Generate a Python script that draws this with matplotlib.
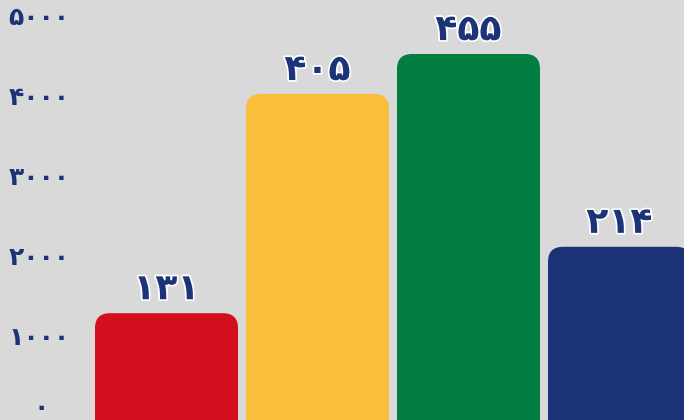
import matplotlib
matplotlib.use("Agg")
import matplotlib.pyplot as plt
from matplotlib.patches import FancyBboxPatch
import matplotlib.transforms as mtransforms
import matplotlib.patheffects as pe

categories = ["A", "B", "C", "D"]
values = [131, 405, 455, 214]
scale = 10  # bar heights on the axis are value x 10
colors = ["#d30e1f", "#f9be3a", "#047d41", "#1b3277"]
ytick_vals = [0, 1000, 2000, 3000, 4000, 5000]

fa_digits = str.maketrans("0123456789", "۰۱۲۳۴۵۶۷۸۹")
def fa(n):
    return str(n).translate(fa_digits)

W, H = 684, 420
fig = plt.figure(figsize=(W/100, H/100), dpi=100)
bg = "#d9d9d9"
fig.patch.set_facecolor(bg)
ax = fig.add_axes([0, 0, 1, 1])
ax.set_facecolor(bg)

x = list(range(len(categories)))
width = 143/151
heights = [v*scale for v in values]
bars = ax.bar(x, heights, width=width, color=colors)

xlim = (-166.5/151, (684-166.5)/151)
ylim = (-25, 5225)
ax.set_xlim(*xlim)
ax.set_ylim(*ylim)

xu_per_px = (xlim[1]-xlim[0])/W
yu_per_px = (ylim[1]-ylim[0])/H
r_px = 15
rs = r_px*xu_per_px
aspect = yu_per_px/xu_per_px
ext = r_px*yu_per_px*2
for b, c in zip(bars, colors):
    bx, by = b.get_x(), b.get_y()
    bw, bh = b.get_width(), b.get_height()
    b.remove()
    p = FancyBboxPatch((bx, by-ext), bw, bh+ext,
                       boxstyle=f"round,pad=0,rounding_size={rs}",
                       mutation_aspect=aspect, facecolor=c, edgecolor="none")
    ax.add_patch(p)

label_color = "#1c3378"
for xi, h, v in zip(x, heights, values):
    ax.annotate(fa(v), (xi, h), xytext=(0, 5), textcoords="offset points",
                ha="center", va="bottom", fontsize=26, fontweight="bold",
                color=label_color, family=["DejaVu Sans"],
                path_effects=[pe.withStroke(linewidth=2.5, foreground="white")])

trans = mtransforms.blended_transform_factory(fig.transFigure, ax.transData)
for t in ytick_vals:
    if t == 0:
        ax.annotate(fa(t), (41/W, t), xycoords=trans, xytext=(0, -1.5),
                    textcoords="offset points", ha="center", va="bottom",
                    fontsize=18, fontweight="bold", color=label_color,
                    family=["DejaVu Sans"])
    else:
        ax.text(39/W, t, fa(t), transform=trans, ha="center", va="center",
                fontsize=18, fontweight="bold", color=label_color,
                family=["DejaVu Sans"])

ax.set_xticks([])
ax.set_yticks([])
for s in ax.spines.values():
    s.set_visible(False)

fig.savefig("out.png", dpi=100, facecolor=bg)
